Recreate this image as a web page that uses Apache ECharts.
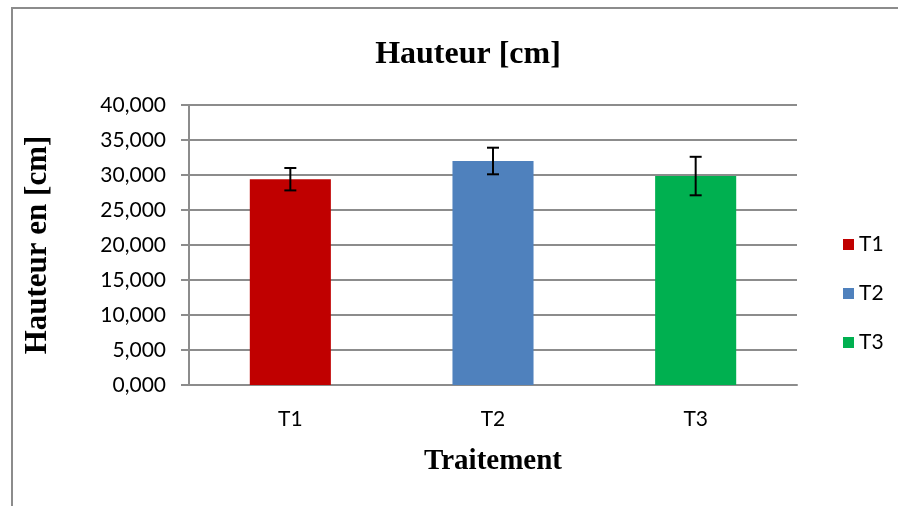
<!DOCTYPE html>
<html>
<head>
<meta charset="utf-8">
<script src="https://cdn.jsdelivr.net/npm/echarts@6/dist/echarts.min.js"></script>
<style>
  html, body { margin: 0; padding: 0; background: #fff; }
  #chart { width: 902px; height: 506px; }
</style>
</head>
<body>
<div id="chart"></div>
<script>
var categories = ['T1', 'T2', 'T3'];
var values = [29400, 32000, 29850];
var errors = [1600, 1900, 2750];
var colors = ['#c00000', '#4f81bd', '#00b050'];

var chart = echarts.init(document.getElementById('chart'));

var barSeries = categories.map(function(name, i) {
  var data = categories.map(function(c, j) { return j === i ? values[i] : '-'; });
  return {
    name: name,
    type: 'bar',
    stack: 'all',
    barWidth: '40%',
    itemStyle: { color: colors[i] },
    data: data
  };
});

var errorData = categories.map(function(c, i) {
  return [i, values[i] - errors[i], values[i] + errors[i]];
});

var option = {
  animation: false,
  textStyle: { fontFamily: 'Lato' },
  graphic: [{
    type: 'polyline',
    shape: { points: [[12, 506], [12, 8], [898, 8]] },
    style: { stroke: '#8c8c8c', lineWidth: 2, fill: null }
  }],
  title: {
    text: 'Hauteur [cm]',
    left: 463,
    top: 34,
    textAlign: 'center',
    textStyle: { fontFamily: 'Liberation Serif', fontWeight: 'bold', fontSize: 32, color: '#000' }
  },
  legend: {
    orient: 'vertical',
    left: 838,
    top: 229,
    itemWidth: 11,
    itemHeight: 11,
    itemGap: 28,
    icon: 'rect',
    data: categories,
    textStyle: { fontFamily: 'Lato', fontSize: 21, color: '#000' }
  },
  grid: { left: 189, right: 105, top: 105, bottom: 121, containLabel: false },
  xAxis: {
    type: 'category',
    data: categories,
    name: 'Traitement',
    nameLocation: 'middle',
    nameGap: 62,
    nameTextStyle: { fontFamily: 'Liberation Serif', fontWeight: 'bold', fontSize: 29, color: '#000' },
    axisLine: { lineStyle: { color: '#8c8c8c', width: 2 } },
    axisTick: { show: false },
    axisLabel: { fontFamily: 'Lato', fontSize: 21, color: '#000', margin: 24 }
  },
  yAxis: {
    type: 'value',
    min: 0,
    max: 40000,
    interval: 5000,
    name: 'Hauteur en [cm]',
    nameLocation: 'middle',
    nameGap: 136,
    nameRotate: 90,
    nameTextStyle: { fontFamily: 'Liberation Serif', fontWeight: 'bold', fontSize: 31, color: '#000' },
    axisLine: { show: true, lineStyle: { color: '#8c8c8c', width: 2 } },
    axisTick: { show: true, length: 8, lineStyle: { color: '#8c8c8c', width: 2 } },
    splitLine: { lineStyle: { color: '#8c8c8c', width: 2 } },
    axisLabel: {
      fontFamily: 'Lato', fontSize: 21, color: '#000', margin: 23,
      formatter: function(v) { return v === 0 ? '0,000' : (Math.floor(v / 1000)) + ',000'; }
    }
  },
  series: barSeries.concat([{
    type: 'custom',
    name: 'err',
    data: errorData,
    z: 10,
    renderItem: function(params, api) {
      var x = api.value(0);
      var lo = api.coord([x, api.value(1)]);
      var hi = api.coord([x, api.value(2)]);
      var hw = 6;
      var st = { stroke: '#000', lineWidth: 2 };
      return {
        type: 'group',
        children: [
          { type: 'line', shape: { x1: hi[0], y1: hi[1], x2: lo[0], y2: lo[1] }, style: st },
          { type: 'line', shape: { x1: hi[0] - hw, y1: hi[1], x2: hi[0] + hw, y2: hi[1] }, style: st },
          { type: 'line', shape: { x1: lo[0] - hw, y1: lo[1], x2: lo[0] + hw, y2: lo[1] }, style: st }
        ]
      };
    }
  }])
};

chart.setOption(option);
</script>
</body>
</html>
